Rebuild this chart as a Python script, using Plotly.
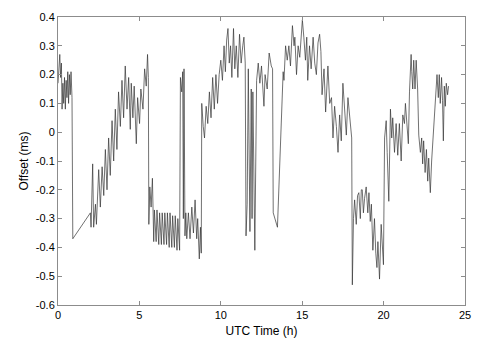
import plotly.graph_objects as go

time_h = [
    0.00, 0.05, 0.11, 0.16, 0.21, 0.25, 0.30, 0.35, 0.40, 0.45, 0.50, 0.55, 0.60, 0.65, 0.70, 0.75, 0.80, 0.86, 0.88, 0.91,
    1.99, 2.03, 2.13, 2.19, 2.30, 2.36, 2.50, 2.60, 2.71, 2.81, 2.91, 3.01, 3.11, 3.21, 3.32, 3.42, 3.52, 3.62, 3.72, 3.83,
    3.93, 4.03, 4.13, 4.24, 4.34, 4.44, 4.50, 4.60, 4.68, 4.81, 4.89, 5.01, 5.09, 5.22, 5.32, 5.42, 5.50, 5.55, 5.58, 5.64,
    5.72, 5.80, 5.88, 5.92, 6.03, 6.08, 6.19, 6.24, 6.35, 6.40, 6.51, 6.56, 6.67, 6.72, 6.83, 6.88, 6.99, 7.04, 7.15, 7.20,
    7.31, 7.36, 7.47, 7.52, 7.60, 7.66, 7.70, 7.74, 7.80, 7.85, 7.91, 8.01, 8.11, 8.22, 8.32, 8.42, 8.52, 8.58, 8.68, 8.75,
    8.80, 8.83, 8.92, 9.00, 9.10, 9.20, 9.30, 9.40, 9.50, 9.60, 9.70, 9.80, 9.90, 10.00, 10.10, 10.20, 10.28, 10.36, 10.44, 10.52,
    10.60, 10.68, 10.78, 10.86, 10.95, 11.05, 11.15, 11.25, 11.35, 11.42, 11.50, 11.55, 11.62, 11.69, 11.79, 11.87, 11.92, 11.97, 12.09, 12.20,
    12.30, 12.40, 12.50, 12.58, 12.65, 12.72, 12.85, 12.97, 13.10, 13.18, 13.22, 13.48, 13.83, 13.88, 13.98, 14.08, 14.18, 14.28, 14.40, 14.50,
    14.55, 14.65, 14.75, 14.85, 15.01, 15.10, 15.20, 15.28, 15.34, 15.45, 15.55, 15.67, 15.77, 15.87, 15.97, 16.07, 16.15, 16.22, 16.34, 16.44,
    16.58, 16.69, 16.80, 16.89, 16.99, 17.10, 17.20, 17.30, 17.40, 17.50, 17.60, 17.71, 17.81, 17.95, 18.04, 18.08, 18.15, 18.22, 18.32, 18.40,
    18.48, 18.57, 18.63, 18.69, 18.76, 18.83, 18.93, 19.03, 19.10, 19.18, 19.25, 19.34, 19.44, 19.52, 19.59, 19.65, 19.75, 19.85, 19.92, 19.99,
    20.06, 20.16, 20.22, 20.32, 20.42, 20.50, 20.56, 20.67, 20.77, 20.87, 20.97, 21.08, 21.18, 21.28, 21.34, 21.44, 21.52, 21.59, 21.69, 21.73,
    21.79, 21.85, 21.93, 22.00, 22.09, 22.16, 22.26, 22.34, 22.40, 22.46, 22.55, 22.63, 22.71, 22.77, 22.87, 22.95, 23.04, 23.12, 23.22, 23.28,
    23.36, 23.42, 23.48, 23.56, 23.62, 23.67, 23.73, 23.79, 23.85, 23.93, 23.99,
]

offset_ms = [
    0.17, 0.23, 0.27, 0.19, 0.24, 0.08, 0.17, 0.10, 0.19, 0.08, 0.18, 0.12, 0.21, 0.10, 0.20, 0.13, 0.21, 0.12, -0.05, -0.37,
    -0.28, -0.33, -0.11, -0.33, -0.25, -0.32, -0.13, -0.26, -0.12, -0.22, -0.06, -0.20, -0.02, -0.15, 0.04, -0.10, 0.08, -0.06, 0.14, 0.02,
    0.18, 0.05, 0.23, 0.08, 0.19, 0.01, 0.17, 0.05, 0.16, -0.04, 0.12, 0.03, 0.15, 0.08, 0.22, 0.16, 0.27, 0.19, -0.32, -0.19,
    -0.26, -0.16, -0.38, -0.27, -0.38, -0.27, -0.39, -0.28, -0.39, -0.28, -0.39, -0.28, -0.39, -0.28, -0.40, -0.28, -0.40, -0.29, -0.40, -0.29,
    -0.41, -0.30, -0.41, 0.19, 0.14, 0.21, -0.30, 0.22, -0.36, -0.28, -0.37, -0.28, -0.37, -0.26, -0.35, -0.235, -0.37, -0.30, -0.44, -0.33,
    -0.42, 0.10, 0.02, -0.02, 0.09, 0.03, 0.14, 0.05, 0.19, 0.08, 0.20, 0.10, 0.20, 0.25, 0.18, 0.30, 0.21, 0.32, 0.36, 0.24,
    0.30, 0.19, 0.36, 0.22, 0.30, 0.19, 0.34, 0.24, 0.30, 0.33, 0.24, -0.36, -0.25, 0.22, -0.345, 0.15, -0.30, 0.14, -0.41, 0.18,
    0.24, 0.17, 0.23, 0.15, 0.09, 0.20, 0.15, 0.275, 0.23, 0.22, -0.28, -0.33, 0.21, 0.18, 0.30, 0.25, 0.30, 0.23, 0.37, 0.30,
    0.33, 0.20, 0.30, 0.26, 0.39, 0.33, 0.25, 0.33, 0.18, 0.30, 0.22, 0.33, 0.24, 0.20, 0.31, 0.34, 0.28, 0.13, 0.22, 0.07,
    0.23, 0.10, 0.12, -0.02, 0.09, 0.02, -0.07, 0.06, -0.03, 0.17, 0.08, -0.01, 0.12, 0.03, -0.02, -0.53, -0.30, -0.235, -0.32, -0.22,
    -0.21, -0.30, -0.20, -0.20, -0.28, -0.23, -0.19, -0.28, -0.21, -0.31, -0.25, -0.41, -0.30, -0.42, -0.47, -0.38, -0.51, -0.32, -0.40, -0.46,
    -0.02, 0.04, -0.07, -0.24, 0.08, -0.02, 0.05, -0.07, 0.03, -0.08, 0.03, -0.10, 0.06, 0.03, 0.10, 0.00, -0.04, 0.14, 0.27, 0.21,
    0.15, 0.25, 0.15, 0.25, 0.15, -0.01, -0.07, -0.02, -0.11, -0.03, -0.14, -0.06, -0.17, -0.09, -0.21, -0.10, -0.01, 0.06, 0.14, 0.20,
    0.12, 0.20, 0.10, 0.19, 0.11, -0.03, 0.16, 0.09, 0.17, 0.13, 0.16,
]

y_ticks = [-0.6, -0.5, -0.4, -0.3, -0.2, -0.1, 0, 0.1, 0.2, 0.3, 0.4]
y_tick_labels = ["-0.6", "-0.5", "-0.4", "-0.3", "-0.2", "-0.1", "0", "0.1", "0.2", "0.3", "0.4"]
x_ticks = [0, 5, 10, 15, 20, 25]
x_tick_labels = ["0", "5", "10", "15", "20", "25"]

fig = go.Figure()
fig.add_trace(go.Scatter(
    x=time_h, y=offset_ms, mode="lines",
    line=dict(color="#333333", width=0.7),
    hoverinfo="skip", showlegend=False,
))

axis_common = dict(
    showgrid=False, zeroline=False, showline=True, linecolor="#8c8c8c", linewidth=1,
    mirror="ticks", ticks="inside", ticklen=4, tickcolor="#8c8c8c", automargin=False,
    tickfont=dict(family="Liberation Sans, Arial, sans-serif", size=11, color="#000000"),
)

# the page body adds an 8px offset, so the figure is sized to fit the 480x360 window
fig.update_layout(
    width=472, height=352,
    margin=dict(l=50, r=15, t=9, b=55),
    paper_bgcolor="white", plot_bgcolor="white",
    font=dict(family="Liberation Sans, Arial, sans-serif", size=11, color="#000000"),
    xaxis=dict(range=[0, 25], tickvals=x_ticks, ticktext=x_tick_labels,
               title=dict(text="UTC Time (h)", font=dict(size=12), standoff=6), **axis_common),
    yaxis=dict(range=[-0.6, 0.4], tickvals=y_ticks, ticktext=y_tick_labels,
               title=dict(text="Offset (ms)", font=dict(size=12), standoff=4), **axis_common),
)

fig.write_html("out.html")
